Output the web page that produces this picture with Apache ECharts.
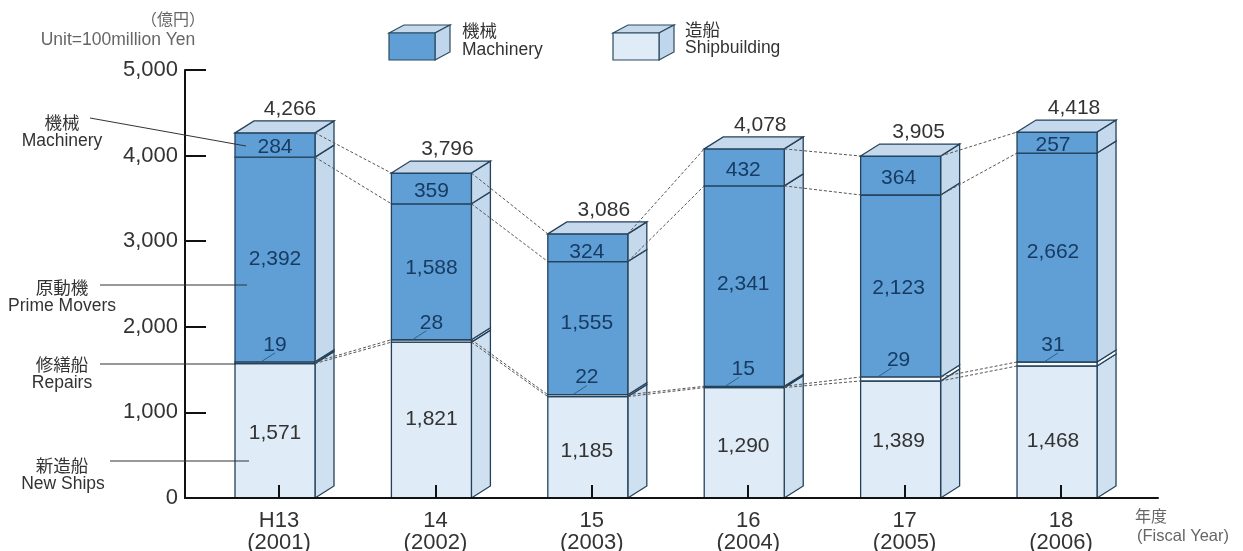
<!DOCTYPE html>
<html><head><meta charset="utf-8">
<style>html,body{margin:0;padding:0;background:#fff}#c{width:1243px;height:551px}</style>
<script src="https://cdn.jsdelivr.net/npm/echarts@6/dist/echarts.min.js"></script>
</head><body><div id="c"></div>
<script>
// ---- data: printed values ----
const tickLabels = ['H13\n(2001)','14\n(2002)','15\n(2003)','16\n(2004)','17\n(2005)','18\n(2006)'];
const totalLabels = [4266,3796,3086,4078,3905,4418];
const newShipsLabels = [1571,1821,1185,1290,1389,1468];
const repairsLabels = [19,28,22,15,29,31];
const primeLabels = [2392,1588,1555,2341,2123,2662];
const machineryLabels = [284,359,324,432,364,257];
// ---- data: segment heights as drawn in the picture (FY17/18 are not to scale with their captions) ----
const newShips = [1571,1821,1185,1290,1367,1542];
const repairs = [19,28,22,15,47,47];
const prime = [2392,1588,1555,2341,2126,2441];
const machinery = [284,359,324,432,455,245];

// ---- style ----
const SANS = '"Liberation Sans",Arimo,Helvetica,Arial,sans-serif';
const CJK = '"Noto Sans CJK JP",sans-serif';
const BAR_W = 80, DX = 19, DY = 12, BAR_SHIFT = -4;
const labelDx = [0,0,-1,-1,-2,-4];
const primeShift = [0,-4,-5,-2,2,-5];
const newShift = [2,-1,4,3,2,9];
const machShift = [2,3,4,3,3,3];
const totalDx = [15,16,16,16,18,17];
const leaderDx = [-14,-19,-15,-19,-23,-13];
const C = {blue:'#5f9fd6', pale:'#dfebf6', side:'#c5d9ec', sidePale:'#cfe0f1', top:'#c6d9ec', edge:'#23415a', white:'#f7f9fb', txt:'#333', blueTxt:'#173b62', gray:'#666'};

function fmt(v){return v.toLocaleString('en-US');}
function stackData(arr, below){return arr.map((v,i)=>{const b=below.reduce((s,a)=>s+a[i],0);return [i,b,b+v];});}

function segRender(fill, sideFill, extra){
  return function(params, api){
    const i = api.value(0);
    const p0 = api.coord([i, api.value(1)]), p1 = api.coord([i, api.value(2)]);
    const cx = p0[0] + BAR_SHIFT, l = cx - BAR_W/2, r = cx + BAR_W/2, y0 = p0[1], y1 = p1[1];
    const line = {stroke:C.edge, lineWidth:1.3};
    const kids = [
      {type:'polygon', shape:{points:[[r,y0],[r+DX,y0-DY],[r+DX,y1-DY],[r,y1]]}, style:Object.assign({fill:sideFill},line)},
      {type:'rect', shape:{x:l,y:y1,width:BAR_W,height:y0-y1}, style:Object.assign({fill:fill},line)}
    ];
    if (extra) extra(kids, i, {cx,l,r,y0,y1});
    return {type:'group', children:kids};
  };
}
function txt(text,x,y,size,fill,font,align){
  return {type:'text', style:{text:text,x:x,y:y,align:align||'center',verticalAlign:'middle',fontSize:size,fontFamily:font||SANS,fill:fill}};
}
const seriesList = [
  {name:'New Ships', values:newShips, below:[], fill:C.pale, side:C.sidePale,
   extra:(k,i,g)=>k.push(txt(fmt(newShipsLabels[i]), g.cx+labelDx[i], (g.y0+g.y1)/2+newShift[i], 21, C.txt))},
  {name:'Repairs', values:repairs, below:[newShips], fill:C.white, side:C.white},
  {name:'Prime Movers', values:prime, below:[newShips,repairs], fill:C.blue, side:C.side,
   extra:(k,i,g)=>{
     k.push(txt(fmt(primeLabels[i]), g.cx+labelDx[i], (g.y0+g.y1)/2+primeShift[i], 21, C.blueTxt));
     // repairs caption sits above the thin repairs band, on the prime-movers block
     k.push(txt(fmt(repairsLabels[i]), g.cx+labelDx[i], g.y0-17, 21, C.blueTxt));
     k.push({type:'line', shape:{x1:g.cx+leaderDx[i],y1:g.y0,x2:g.cx+leaderDx[i]+14,y2:g.y0-9}, style:{stroke:'#2f6288',lineWidth:1}});
   }},
  {name:'Machinery', values:machinery, below:[newShips,repairs,prime], fill:C.blue, side:C.side,
   extra:(k,i,g)=>{
     k.push(txt(fmt(machineryLabels[i]), g.cx+labelDx[i], (g.y0+g.y1)/2+machShift[i], 21, C.blueTxt));
     k.push({type:'polygon', shape:{points:[[g.l,g.y1],[g.l+DX,g.y1-DY],[g.r+DX,g.y1-DY],[g.r,g.y1]]}, style:{fill:C.top,stroke:C.edge,lineWidth:1.3}});
     k.push(txt(fmt(totalLabels[i]), g.cx+totalDx[i], g.y1-24, 21, C.txt));
   }}
];
const series = seriesList.map((s,n)=>({
  type:'custom', name:s.name, clip:false, z:2+n, silent:true,
  data:stackData(s.values,s.below), encode:{x:0,y:2},
  renderItem:segRender(s.fill,s.side,s.extra)
}));
// dashed connectors between neighbouring bars
const levels = [newShips, newShips.map((v,i)=>v+repairs[i]),
  newShips.map((v,i)=>v+repairs[i]+prime[i]),
  newShips.map((v,i)=>v+repairs[i]+prime[i]+machinery[i])];
levels.forEach(lv=>{
  series.push({type:'custom', clip:false, z:8, silent:true,
    data:lv.slice(0,-1).map((v,i)=>[i,v,i+1,lv[i+1]]),
    encode:{x:0,y:1},
    renderItem:(params,api)=>{
      const a=api.coord([api.value(0),api.value(1)]), b=api.coord([api.value(2),api.value(3)]);
      return {type:'line', shape:{x1:a[0]+BAR_SHIFT+BAR_W/2,y1:a[1],x2:b[0]+BAR_SHIFT-BAR_W/2,y2:b[1]},
        style:{stroke:'#555',lineWidth:1,lineDash:[3,2]}};
    }});
});

function box(x,y,fill){ // legend swatch
  const w=46,h=27,dx=15,dy=8,s={stroke:'#2b4b5f',lineWidth:1.2};
  return [
    {type:'polygon',shape:{points:[[x,y],[x+dx,y-dy],[x+w+dx,y-dy],[x+w,y]]},style:Object.assign({fill:'#c6d9ea'},s)},
    {type:'polygon',shape:{points:[[x+w,y],[x+w+dx,y-dy],[x+w+dx,y+h-dy],[x+w,y+h]]},style:Object.assign({fill:'#bfd6ec'},s)},
    {type:'rect',shape:{x:x,y:y,width:w,height:h},style:Object.assign({fill:fill},s)}
  ];
}
function gt(text,x,y,size,font,fill,align){
  return {type:'text',x:x,y:y,style:{text:text,fontSize:size,fontFamily:font,fill:fill||C.txt,align:align||'center',verticalAlign:'middle'}};
}
function gl(x1,y1,x2,y2){return {type:'line',shape:{x1,y1,x2,y2},style:{stroke:'#333',lineWidth:1},z:20};}
const graphic = [].concat(
  box(389,33,'#5f9fd6'), box(613,33,'#dfebf6'),
  [
   gt('機械',462,30,17.5,CJK,C.txt,'left'), gt('Machinery',462,50,17.5,SANS,C.txt,'left'),
   gt('造船',685,29,17.5,CJK,C.txt,'left'), gt('Shipbuilding',685,48,17.5,SANS,C.txt,'left'),
   gt('（億円）',173,19,16,CJK,C.gray), gt('Unit=100million Yen',118,40,17.5,SANS,C.gray),
   gt('機械',62,122,17.5,CJK), gt('Machinery',62,141,17.5,SANS),
   gt('原動機',62,287,17.5,CJK), gt('Prime Movers',62,306,17.5,SANS),
   gt('修繕船',62,364,17.5,CJK), gt('Repairs',62,383,17.5,SANS),
   gt('新造船',62,465,17.5,CJK), gt('New Ships',63,484,17.5,SANS),
   gt('年度',1135,516,16,CJK,C.gray,'left'), gt('(Fiscal Year)',1137,536,16.5,SANS,C.gray,'left'),
   gl(90,118,246,146), gl(100,285,247,285), gl(100,364,236,364), gl(110,461,249,461)
  ]);

const chart = echarts.init(document.getElementById('c'),null,{renderer:'canvas'});
const idx = tickLabels.map((_,i)=>i);
chart.setOption({
  animation:false, backgroundColor:'#fff',
  grid:{left:185,top:70,width:973,height:428,containLabel:false,outerBoundsMode:'none'},
  xAxis:{type:'value',min:-0.601,max:5.62,z:10,splitLine:{show:false},
    axisLine:{show:true,onZero:false,lineStyle:{color:'#111',width:2}},
    axisTick:{show:true,inside:true,length:13,customValues:idx,lineStyle:{color:'#111',width:2}},
    axisLabel:{show:true,customValues:idx,margin:12,fontSize:22,lineHeight:22,fontFamily:SANS,color:C.txt,
      formatter:v=>tickLabels[Math.round(v)]}},
  yAxis:{type:'value',min:0,max:5000,interval:1000,splitLine:{show:false},
    axisLine:{show:true,onZero:false,lineStyle:{color:'#111',width:2}},
    axisTick:{show:true,inside:true,length:21,lineStyle:{color:'#111',width:2}},
    axisLabel:{margin:7,fontSize:22,fontFamily:SANS,color:C.txt,formatter:fmt}},
  series:series, graphic:graphic
});
</script></body></html>
